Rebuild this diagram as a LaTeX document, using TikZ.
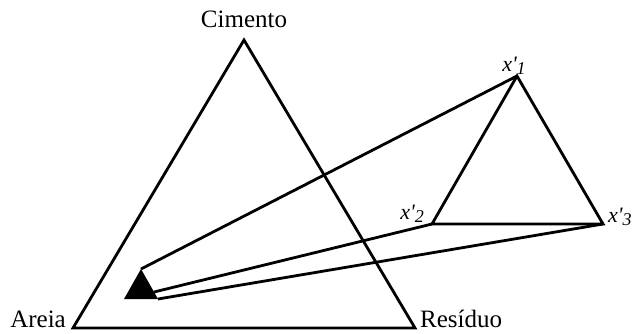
\documentclass[tikz,border=0pt]{standalone}
\usepackage{fontspec}
\setmainfont{Liberation Serif}
\usepackage{tikz}
\usetikzlibrary{positioning}

\newcommand{\xprime}[1]{\textit{x\textquotesingle\raisebox{-0.35ex}{\fontsize{18}{20}\selectfont #1}}}

\begin{document}
\begin{tikzpicture}[x=1pt, y=-1pt,
  edge/.style={line width=2.8pt, black, line join=miter},
  lbl/.style={font=\fontsize{25}{29}\selectfont, inner sep=0pt},
  vlbl/.style={font=\fontsize{22}{26}\selectfont, inner sep=0pt}]
  \useasboundingbox (0,0) rectangle (640,333);
  % ternary diagram
  \coordinate (cim) at (244,40);
  \coordinate (are) at (73,328);
  \coordinate (res) at (415,328);
  % reduced region
  \coordinate (x1) at (517,76);
  \coordinate (x2) at (432,224);
  \coordinate (x3) at (603,224);
  % small filled region
  \coordinate (t1) at (141,269);
  \coordinate (t2) at (154,292);
  \coordinate (t3) at (158,299);
  \coordinate (t4) at (124,299);
  \node[lbl, anchor=base] (cimlbl) at ([yshift=13pt]cim) {Cimento};
  \node[lbl, anchor=base east] (arelbl) at ([xshift=-7pt,yshift=1pt]are) {Areia};
  \node[lbl, anchor=base west] (reslbl) at ([xshift=5pt,yshift=1pt]res) {Resíduo};
  \node[vlbl, anchor=base] (x1lbl) at ([xshift=-3pt,yshift=5pt]x1) {\xprime{1}};
  \node[vlbl, anchor=base east] (x2lbl) at ([xshift=-8pt,yshift=5pt]x2) {\xprime{2}};
  \node[vlbl, anchor=base west] (x3lbl) at ([xshift=5pt,yshift=2pt]x3) {\xprime{3}};
  \draw[edge] (cim) -- (res) -- (are) -- cycle;
  \draw[edge] (x1) -- (x3) -- (x2) -- cycle;
  \fill[black] (t1) -- (t3) -- (t4) -- cycle;
  \draw[edge] (t1) -- (x1);
  \draw[edge] (t2) -- (x2);
  \draw[edge] (t3) -- (x3);
\end{tikzpicture}
\end{document}
